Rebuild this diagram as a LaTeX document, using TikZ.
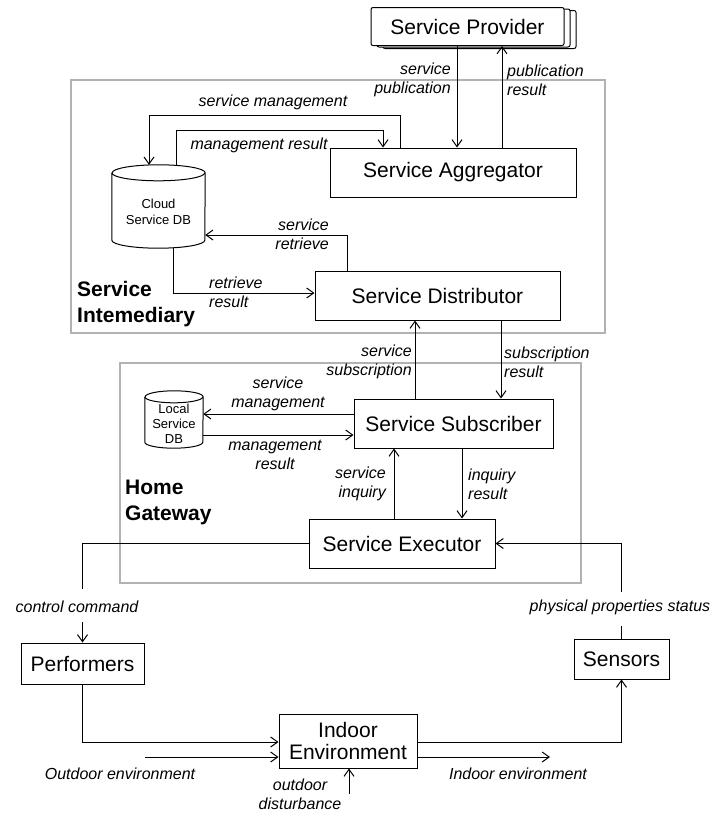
\documentclass[tikz,border=0pt]{standalone}
\usepackage{fontspec}
\setmainfont{Liberation Sans}
\usetikzlibrary{arrows.meta,shadows}
\begin{document}
\begin{tikzpicture}[x=1pt,y=-1pt,
  box/.style={draw, line width=1pt, fill=white, inner sep=0pt, align=center, font=\fontsize{21}{22.5}\selectfont},
  lbl/.style={inner sep=0pt, font=\fontsize{16}{19}\selectfont\itshape},
  glbl/.style={inner sep=0pt, align=left, font=\fontsize{21}{26}\selectfont\bfseries},
  dbtext/.style={inner sep=0pt, align=center},
  frame/.style={draw=black!30, line width=1.5pt, inner sep=0pt},
  ln/.style={line width=1pt},
  arr/.style={line width=1pt, -{Straight Barb[length=7pt,width=10pt,line width=1pt]}}]
\useasboundingbox (0,0) rectangle (710,814);

% frames
\node[frame, minimum width=534pt, minimum height=253pt] (si) at (338,206.5) {};
\node[frame, minimum width=461pt, minimum height=220pt] (hg) at (350.5,473) {};

% boxes
\node[box, rounded corners=2pt, minimum width=193pt, minimum height=38pt,
      double copy shadow={shadow xshift=6pt, shadow yshift=-1.5pt}] (prov) at (467.5,26.5) {Service Provider};
\node[box, minimum width=246pt, minimum height=49pt] (agg) at (453,172.5) {Service Aggregator};
\node[box, minimum width=245pt, minimum height=49pt] (dist) at (437.5,295.5) {Service Distributor};
\node[box, minimum width=199pt, minimum height=49pt] (sub) at (453.5,423.5) {Service Subscriber};
\node[box, minimum width=186pt, minimum height=49pt] (exec) at (402,543.5) {Service Executor};
\node[box, minimum width=123pt, minimum height=41pt] (perf) at (82.5,663.5) {Performers};
\node[box, minimum width=95pt, minimum height=40pt] (sens) at (621.5,659) {Sensors};
\node[box, minimum width=138pt, minimum height=54pt] (ie) at (348,741) {Indoor\\[-1pt]Environment};

% databases
\node[dbtext, minimum width=93pt, minimum height=83pt, font=\fontsize{13}{16}\selectfont] (cdb) at (158.5,206.5) {\raisebox{-10pt}[0pt][0pt]{\begin{tabular}{@{}c@{}}Cloud\\Service DB\end{tabular}}};
\draw[ln] ([yshift=-8pt]cdb.north west) -- ([yshift=8pt]cdb.south west)
  arc[start angle=180, end angle=360, x radius=46.5pt, y radius=8pt]
  -- ([yshift=-8pt]cdb.north east)
  arc[start angle=0, end angle=180, x radius=46.5pt, y radius=8pt];
\draw[ln] ([yshift=-8pt]cdb.north west) arc[start angle=180, end angle=360, x radius=46.5pt, y radius=8pt];

\node[dbtext, minimum width=58pt, minimum height=57pt, font=\fontsize{13}{15}\selectfont] (ldb) at (174,419.5) {\raisebox{-8.5pt}[0pt][0pt]{\begin{tabular}{@{}c@{}}Local\\Service\\DB\end{tabular}}};
\draw[ln] ([yshift=-6pt]ldb.north west) -- ([yshift=6pt]ldb.south west)
  arc[start angle=180, end angle=360, x radius=29pt, y radius=6pt]
  -- ([yshift=-6pt]ldb.north east)
  arc[start angle=0, end angle=180, x radius=29pt, y radius=6pt];
\draw[ln] ([yshift=-6pt]ldb.north west) arc[start angle=180, end angle=360, x radius=29pt, y radius=6pt];

% group labels
\node[glbl, anchor=west] (silbl) at (77,304) {Service\\Intemediary};
\node[glbl, anchor=west] (hglbl) at (125,502) {Home\\Gateway};

% connectors
\coordinate (c1) at ([xshift=-10.5pt]prov.south);
\draw[arr] (c1) -- (c1 |- agg.north);
\coordinate (c2) at ([xshift=49pt]agg.north);
\draw[arr] (c2) -- (c2 |- prov.south);
\draw[arr] ([xshift=-53pt]agg.north) -- ++(0,-32) -| ([xshift=-9.5pt]cdb.north);
\draw[arr] ([xshift=17.5pt]cdb.north) -- ++(0,-34) -| ([xshift=-70pt]agg.north);
\draw[arr] ([xshift=-90.5pt]dist.north) |- ([yshift=-28.5pt]cdb.east);
\draw[arr] ([xshift=14.5pt]cdb.south) |- ([yshift=2.5pt]dist.west);
\coordinate (c3) at ([xshift=-38.5pt]sub.north);
\draw[arr] (c3) -- (c3 |- dist.south);
\coordinate (c4) at ([xshift=63.5pt]dist.south);
\draw[arr] (c4) -- (c4 |- sub.north);
\coordinate (c5) at ([yshift=9.5pt]sub.west);
\draw[arr] (c5) -- (c5 -| ldb.east);
\coordinate (c6) at ([yshift=-15.5pt]ldb.east);
\draw[arr] (c6) -- (c6 -| sub.west);
\coordinate (c7) at ([xshift=-8pt]exec.north);
\draw[arr] (c7) -- (c7 |- sub.south);
\coordinate (c8) at ([xshift=8.5pt]sub.south);
\draw[arr] (c8) -- (c8 |- exec.north);
\coordinate (cc1) at (82.5,589);
\coordinate (cc2) at (82.5,622);
\draw[ln] (exec.west) -| (cc1);
\draw[arr] (cc2) -- (perf.north);
\coordinate (ps1) at (621.5,626);
\coordinate (ps2) at (621.5,592);
\draw[ln] (sens.north) -- (ps1);
\draw[arr] (ps2) |- (exec.east);
\draw[arr] (perf.south) |- ([yshift=-1pt]ie.west);
\coordinate (oe) at (145,757);
\draw[arr] (oe) -- (oe -| ie.west);
\draw[arr] ([yshift=-1pt]ie.east) -| (sens.south);
\coordinate (ieo) at (550,757);
\draw[arr] (ieo -| ie.east) -- (ieo);
\coordinate (od) at (349,794);
\draw[arr] (od) -- (od |- ie.south);

% labels
\node[lbl, align=right, anchor=east] (l1) at (451,80) {service\\publication};
\node[lbl, align=left, anchor=west] (l2) at (507,80) {publication\\result};
\node[lbl] (l3) at (273,102) {service management};
\node[lbl] (l4) at (259,145) {management result};
\node[lbl, align=right, anchor=east] (l5) at (329,234) {service\\retrieve};
\node[lbl, align=left, anchor=west] (l6) at (209,292) {retrieve\\result};
\node[lbl, align=right, anchor=east] (l7) at (412,362) {service\\subscription};
\node[lbl, align=left, anchor=west] (l8) at (504,362) {subscription\\result};
\node[lbl, align=center] (l9) at (278,394) {service\\management};
\node[lbl, align=center] (l10) at (275,455) {management\\result};
\node[lbl, align=right, anchor=east] (l11) at (386,484) {service\\inquiry};
\node[lbl, align=left, anchor=west] (l12) at (468,484) {inquiry\\result};
\node[lbl] (l13) at (77,607) {control command};
\node[lbl] (l14) at (620,607) {physical properties status};
\node[lbl] (l15) at (120,774) {Outdoor environment};
\node[lbl] (l16) at (518,774) {Indoor environment};
\node[lbl, align=center] (l17) at (300,794) {outdoor\\disturbance};
\end{tikzpicture}
\end{document}
